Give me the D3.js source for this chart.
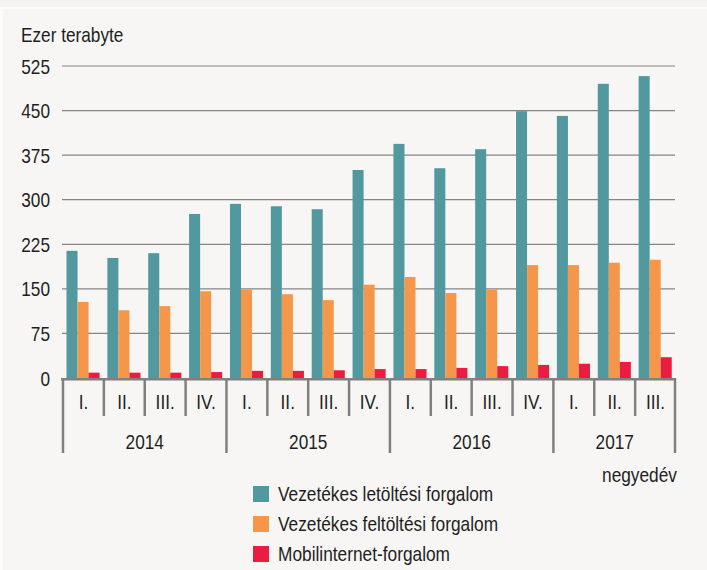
<!DOCTYPE html>
<html>
<head>
<meta charset="utf-8">
<script src="https://cdn.jsdelivr.net/npm/d3@7"></script>
<style>
  html, body { margin: 0; padding: 0; background: #fbfbfa; }
  svg { display: block; }
  text { font-family: "Liberation Sans", Arial, sans-serif; fill: #1e1e1e; }
</style>
</head>
<body>
<svg id="chart" width="707" height="570"></svg>
<script>
// data (thousand terabytes)
const years = ["2014", "2015", "2016", "2017"];
const quarters = ["I.", "II.", "III.", "IV.", "I.", "II.", "III.", "IV.", "I.", "II.", "III.", "IV.", "I.", "II.", "III."];
const periodYear = ["2014", "2014", "2014", "2014", "2015", "2015", "2015", "2015", "2016", "2016", "2016", "2016", "2017", "2017", "2017"];
const download = [214, 202, 210, 276, 293, 289, 284, 350, 394, 353, 385, 449, 441, 495, 508];
const upload = [128, 114, 121, 146, 149, 141, 131, 157, 170, 143, 149, 190, 190, 194, 199];
const mobile = [9, 9, 9, 10, 12, 12, 13, 15, 15, 17, 20, 22, 24, 27, 35];
const yTicks = [0, 75, 150, 225, 300, 375, 450, 525];

const seriesNames = ["Vezetékes letöltési forgalom", "Vezetékes feltöltési forgalom", "Mobilinternet-forgalom"];
const seriesColors = ["#52989f", "#f4974a", "#ea1c40"];
const seriesValues = [download, upload, mobile];

const svg = d3.select("#chart");
const W = 707, H = 570;
const margin = { left: 62, right: 675, top: 66, bottom: 378 };
// no narrow font installed, squeeze Liberation Sans instead
const at = (x, y, s = 0.82) => `translate(${x},${y}) scale(${s},1)`;

// background panel
svg.append("rect").attr("width", W).attr("height", 7).attr("fill", "#f3f2f0");
svg.append("rect").attr("x", 3).attr("y", 9).attr("width", W - 3).attr("height", H - 9).attr("fill", "#f7f6f4");

const x0 = d3.scaleBand()
    .domain(d3.range(quarters.length))
    .range([margin.left, margin.right])
    .padding(0);

const x1 = d3.scaleBand()
    .domain(d3.range(seriesNames.length))
    .range([x0.bandwidth() * 0.11, x0.bandwidth() * 0.92])
    .padding(0);

const y = d3.scaleLinear()
    .domain([0, 525])
    .range([margin.bottom, margin.top]);

// gridlines
svg.append("g")
    .selectAll("line")
    .data(yTicks.filter(d => d > 0))
    .join("line")
    .attr("x1", margin.left)
    .attr("x2", margin.right)
    .attr("y1", d => y(d))
    .attr("y2", d => y(d))
    .attr("stroke", "#858585")
    .attr("stroke-width", 1.2);

// y labels
svg.append("g")
    .selectAll("text")
    .data(yTicks)
    .join("text")
    .attr("transform", d => at(50, y(d)))
    .attr("dy", "0.36em")
    .attr("text-anchor", "end")
    .attr("font-size", 21)
    .text(d => d);

svg.append("text")
    .attr("transform", at(21, 42))
    .attr("font-size", 21)
    .text("Ezer terabyte");

// bars
const groups = svg.append("g")
    .selectAll("g")
    .data(d3.range(quarters.length))
    .join("g")
    .attr("transform", i => `translate(${x0(i)},0)`);

groups.selectAll("rect")
    .data(i => seriesValues.map((vals, s) => ({ s, v: vals[i] })))
    .join("rect")
    .attr("x", d => x1(d.s))
    .attr("width", x1.bandwidth())
    .attr("y", d => y(d.v))
    .attr("height", d => y(0) - y(d.v))
    .attr("fill", d => seriesColors[d.s]);

// category axis
const n = quarters.length;
const axis = svg.append("g").attr("stroke", "#808080").attr("stroke-width", 2.5);
axis.append("line")
    .attr("x1", margin.left - 1).attr("x2", margin.right + 1)
    .attr("y1", margin.bottom + 1.2).attr("y2", margin.bottom + 1.2);

const isYearStart = i => i === n || i === 0 || periodYear[i] !== periodYear[i - 1];
axis.selectAll("line.tick")
    .data(d3.range(n + 1))
    .join("line")
    .attr("class", "tick")
    .attr("x1", i => i < n ? x0(i) + 1 : margin.right)
    .attr("x2", i => i < n ? x0(i) + 1 : margin.right)
    .attr("y1", margin.bottom)
    .attr("y2", i => isYearStart(i) ? 453 : 416);

svg.append("g")
    .selectAll("text")
    .data(quarters)
    .join("text")
    .attr("transform", (d, i) => at(x0(i) + x0.bandwidth() / 2 + 1, 409))
    .attr("text-anchor", "middle")
    .attr("font-size", 21)
    .text(d => d);

svg.append("g")
    .selectAll("text")
    .data(years)
    .join("text")
    .attr("transform", yr => {
        const idx = d3.range(n).filter(i => periodYear[i] === yr);
        return at((x0(idx[0]) + x0(idx[idx.length - 1]) + x0.bandwidth()) / 2 + 1, 449);
    })
    .attr("text-anchor", "middle")
    .attr("font-size", 21)
    .text(d => d);

svg.append("text")
    .attr("transform", at(677, 482, 0.865))
    .attr("text-anchor", "end")
    .attr("font-size", 20)
    .text("negyedév");

// legend
const legend = svg.append("g")
    .selectAll("g")
    .data(seriesNames)
    .join("g")
    .attr("transform", (d, i) => `translate(253,${486 + i * 30})`);

legend.append("rect")
    .attr("width", 16)
    .attr("height", 16)
    .attr("fill", (d, i) => seriesColors[i]);

legend.append("text")
    .attr("transform", at(25, 8, 0.865))
    .attr("dy", "0.36em")
    .attr("font-size", 20)
    .text(d => d);
</script>
</body>
</html>
